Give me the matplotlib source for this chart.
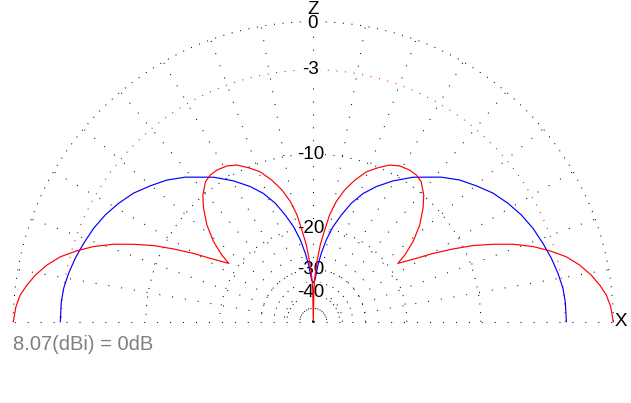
import numpy as np
import matplotlib
matplotlib.use("Agg")
import matplotlib.pyplot as plt

plt.rcParams['font.family'] = ['Liberation Sans', 'DejaVu Sans']
plt.rcParams['lines.scale_dashes'] = False

# elevation pattern, right half (0 = horizon, 90 = zenith); the pattern is symmetric
blue_elev = [0, 4.5, 7.6, 11.2, 14.9, 18.8, 23.0, 27.2, 31.3, 35.6, 39.8, 44.1, 48.5,
             55.4, 60.5, 65.0, 68.8, 72.2, 75.3, 78.3, 81.0, 83.3, 85.3, 87.7, 90]
blue_db = [-2.92, -2.94, -3.0, -3.17, -3.38, -3.64, -3.92, -4.28, -4.72, -5.25, -5.94,
           -6.65, -7.57, -9.2, -10.6, -12.0, -13.4, -15.1, -17.2, -19.4, -22.1, -25.2,
           -28.5, -33.9, -35.0]

red_elev = [0, 2.9, 5.2, 7.3, 9.5, 12.0, 14.4, 16.7, 18.9, 21.2, 23.3, 25.5, 27.5,
            29.7, 31.6, 34.6, 36.1, 38.8, 42.3, 46.0, 48.9, 52.4, 54.9, 57.6, 61.0,
            64.0, 67.2, 70.5, 73.7, 76.6, 79.2, 81.3, 82.9, 84.8, 86.5, 88.2, 88.9, 90]
red_db = [0.0, -0.13, -0.33, -0.66, -1.07, -1.66, -2.38, -3.35, -4.40, -5.78, -7.33,
          -9.07, -11.06, -13.35, -15.6, -18.4, -16.7, -14.6, -12.6, -11.0, -9.95, -9.08,
          -8.84, -8.80, -8.95, -9.32, -10.05, -10.9, -12.2, -13.65, -15.4, -17.5, -20.2,
          -23.3, -27.6, -33.2, -37.5, -99]

grid_db = [0, -3, -10, -20, -30, -40]
grid_labels = ["0", "-3", "-10", "-20", "-30", "-40"]
axis_names = ["Z", "X"]
max_gain = "8.07(dBi) = 0dB"


def to_r(db):
    # ARRL style log scale: 0.89 per 2 dB
    return 0.89 ** (-np.asarray(db, dtype=float) / 2.0)


def full_pattern(elev, db):
    elev = np.asarray(elev, dtype=float)
    db = np.asarray(db, dtype=float)
    ang = np.concatenate([elev, 180.0 - elev[::-1]])
    vals = np.concatenate([db, db[::-1]])
    return np.radians(ang), to_r(vals)


W, H = 631, 403
cx, cy, R = 313.3, 321.7, 300.0

fig = plt.figure(figsize=(W / 100, H / 100), dpi=100)
ax = fig.add_axes([0, 0, 1, 1])
ax.set_xlim(-cx / R, (W - cx) / R)
ax.set_ylim(-(H - cy) / R, cy / R)
ax.axis("off")

dot = (0, (0.72, 5.5))
rdot = (0, (0.72, 8.6))

# grid circles
t = np.linspace(0, np.pi, 600)
for d in grid_db:
    r = to_r(d)
    col = "red" if d == -3 else "black"
    ax.plot(r * np.cos(t), r * np.sin(t), color=col, lw=0.75, linestyle=dot, zorder=1)

# radial lines every 10 degrees
for a in range(0, 181, 10):
    th = np.radians(a)
    ax.plot([0, np.cos(th)], [0, np.sin(th)], color="black", lw=0.75,
            linestyle=rdot, zorder=1)

# level labels (the top one carries the Z axis name above it)
for d, lab in zip(grid_db, grid_labels):
    if d == 0:
        ax.text(-0.002, (cy - 1.5) / R, axis_names[0] + "\n" + lab, ha="center",
                va="top", fontsize=13.5, linespacing=0.75, zorder=3,
                bbox=dict(facecolor="white", edgecolor="none", pad=0.5))
        continue
    ax.text(-0.008, to_r(d), lab, ha="center", va="center", fontsize=13.5,
            color="black", zorder=3,
            bbox=dict(facecolor="white", edgecolor="none", pad=0.5))

ax.text(1.003, 0, axis_names[1], ha="left", va="center", fontsize=13.5, zorder=3)

# patterns
th, r = full_pattern(blue_elev, blue_db)
ax.plot(r * np.cos(th), r * np.sin(th), color="blue", lw=0.85, zorder=4)
th, r = full_pattern(red_elev, red_db)
ax.plot(r * np.cos(th), r * np.sin(th), color="red", lw=0.85, zorder=5)

fig.text(13 / W, 1 - 344 / H, max_gain, ha="left", va="center", fontsize=14.5,
         color="#7f7f7f")

fig.savefig("out.png", dpi=100)
